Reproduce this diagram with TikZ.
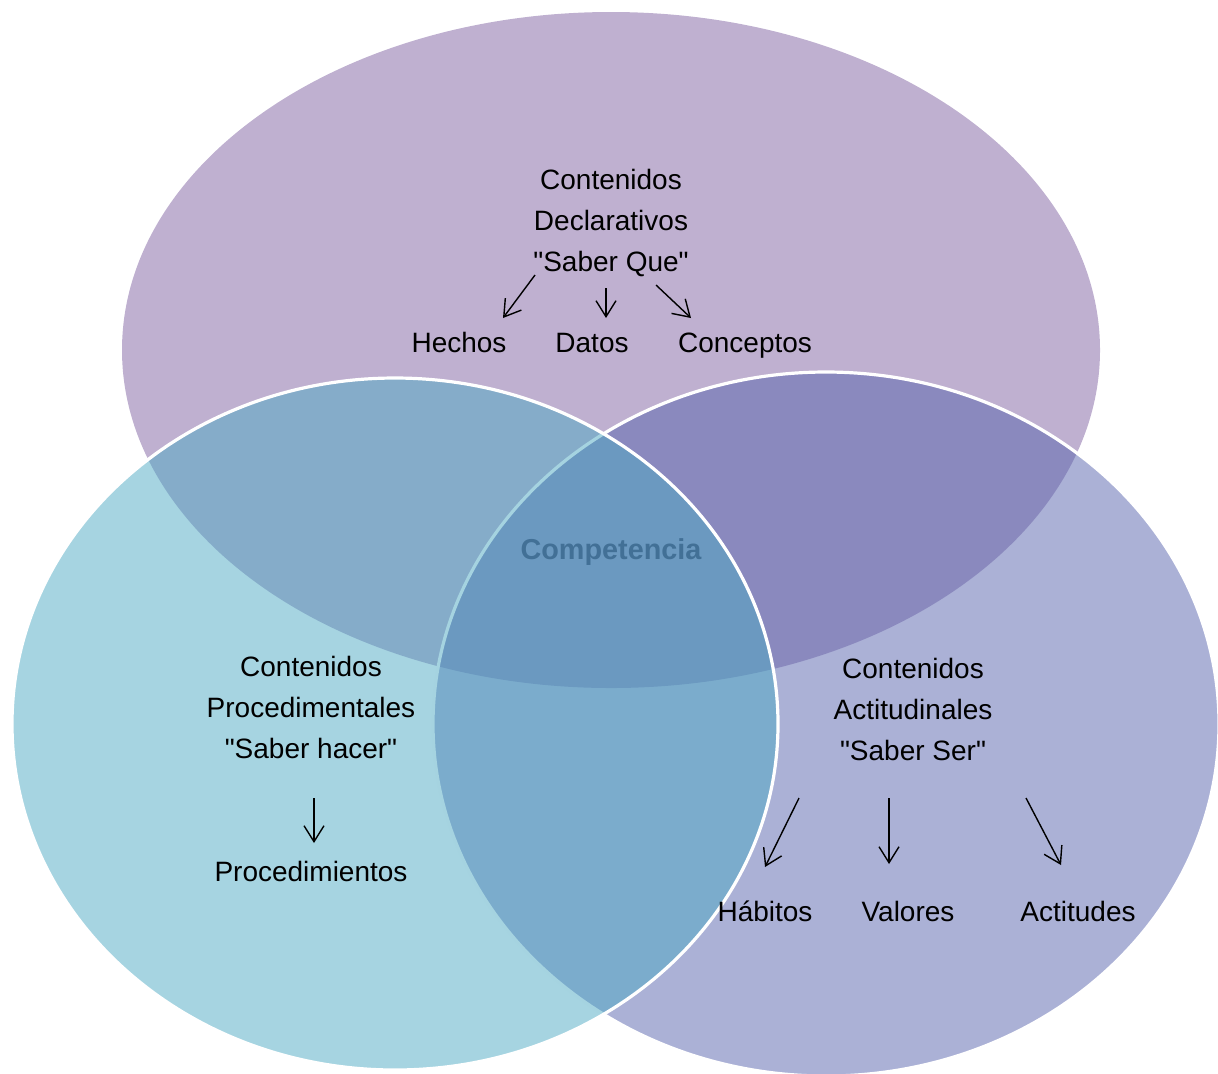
\documentclass[tikz,border=0pt]{standalone}
\usepackage{fontspec}
\setmainfont{Liberation Sans}[Ligatures=TeXOff]
\usetikzlibrary{arrows.meta}
\definecolor{declcol}{RGB}{191,176,208}
\definecolor{proccol}{RGB}{77,169,195}
\definecolor{actcol}{RGB}{87,99,173}
\definecolor{compcol}{RGB}{66,112,150}
\begin{document}
\begin{tikzpicture}[x=0.5pt,y=-0.5pt,
    lbl/.style={inner sep=0pt,align=center,font=\fontsize{14}{20.5}\selectfont},
    word/.style={lbl,anchor=base},
    arr/.style={-{Straight Barb[length=8pt,width=10pt]},line width=0.7pt},
    setcirc/.style={fill opacity=0.5,draw=white,draw opacity=1,line width=1.6pt}]
    \useasboundingbox (0,0) rectangle (1218,1073);
    \clip (0,0) rectangle (1218,1073);

    % the three sets
    \fill[declcol] (611,350) ellipse [x radius=244.5pt, y radius=169pt];
    \draw[setcirc,fill=actcol] (826,724) ellipse [x radius=196.5pt, y radius=176pt];
    \draw[setcirc,fill=proccol] (395,724) ellipse [x radius=191.5pt, y radius=173pt];

    % declarativos
    \node[lbl] (decl) at (611,223) {Contenidos\\Declarativos\\"Saber Que"};
    \node[word] (hechos) at (459,352) {Hechos};
    \node[word] (datos) at (592,352) {Datos};
    \node[word] (concep) at (745,352) {Conceptos};
    \coordinate (d1) at (535,275);
    \coordinate (d2) at (606,288);
    \coordinate (d3) at (656,285);
    \coordinate (h1) at (503,318);
    \coordinate (h2) at (606,318);
    \coordinate (h3) at (691,318);
    \draw[arr] (d1) -- (h1);
    \draw[arr] (d2) -- (h2);
    \draw[arr] (d3) -- (h3);

    % procedimentales
    \node[lbl] (proc) at (311,707) {Contenidos\\Procedimentales\\"Saber hacer"};
    \node[word] (procs) at (311,881) {Procedimientos};
    \coordinate (p1) at (314,798);
    \coordinate (p2) at (314,843);
    \draw[arr] (p1) -- (p2);

    % actitudinales
    \node[lbl] (act) at (913,709) {Contenidos\\Actitudinales\\"Saber Ser"};
    \node[word] (habitos) at (765,921) {Hábitos};
    \node[word] (valores) at (908,921) {Valores};
    \node[word] (actit) at (1078,921) {Actitudes};
    \coordinate (a1) at (799,798);
    \coordinate (a2) at (889,798);
    \coordinate (a3) at (1026,798);
    \coordinate (v1) at (765,867);
    \coordinate (v2) at (889,864);
    \coordinate (v3) at (1061,865);
    \draw[arr] (a1) -- (v1);
    \draw[arr] (a2) -- (v2);
    \draw[arr] (a3) -- (v3);

    \node[word,font=\fontsize{14.4}{16}\selectfont\bfseries,text=compcol] (comp) at (611,559) {Competencia};
\end{tikzpicture}
\end{document}
